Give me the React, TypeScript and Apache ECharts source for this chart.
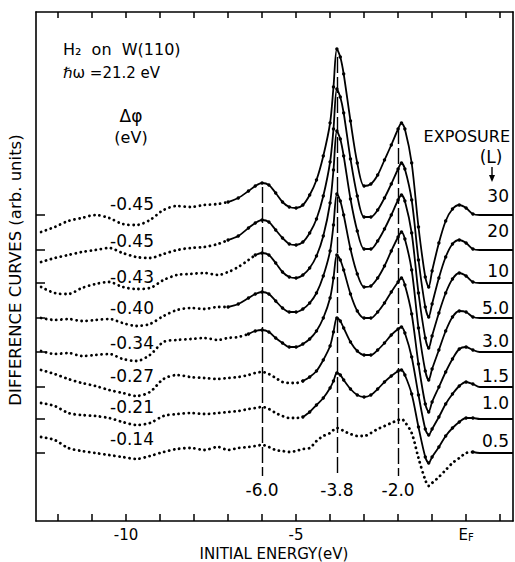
import React, { useEffect, useRef } from "react";
import * as echarts from "echarts";

// Energy grid (eV, relative to E_F)
const energy = [
  -12.5, -12.1, -11.7, -11.3, -10.9, -10.5, -10.1, -9.7, -9.3, -8.9, -8.5, -8.1, -7.7, -7.3,
  -7.0, -6.7, -6.4, -6.2, -6.0, -5.8, -5.6, -5.4, -5.2, -5.0,
  -4.8, -4.6, -4.4, -4.2, -4.0, -3.9, -3.8, -3.7, -3.6, -3.4, -3.2, -3.0,
  -2.8, -2.6, -2.4, -2.2, -2.0, -1.9, -1.8, -1.6, -1.4, -1.2, -1.1, -1.0,
  -0.8, -0.6, -0.4, -0.2, 0.0, 0.2, 0.4, 0.8, 1.38,
];

// Exposure (L) and work-function change labels, top curve first
const exposures = ["30", "20", "10", "5.0", "3.0", "1.5", "1.0", "0.5"];
const dphi = ["-0.45", "-0.45", "-0.43", "-0.40", "-0.34", "-0.27", "-0.21", "-0.14"];

// Zero level of each difference curve (arb. units)
const baselines = [306, 271, 238, 203, 169, 134, 102, 68];

// Energy at which the drawn (solid) curve begins for each exposure
const solidFrom = [-7.0, -7.0, -6.2, -7.0, -6.4, -4.8, -4.8, 0.2];

// Difference-curve values above each baseline
const c30 = [
  -17, -12, -6, -3, 0, -3, -9, -10, -5, 5, 9, 8, 10, 11,
  13, 17, 24, 29, 32, 30, 22, 13, 8, 7,
  10, 20, 35, 59, 92, 128, 166, 158, 141, 94, 52, 29,
  31, 40, 55, 70, 86, 92, 86, 52, -12, -62, -72, -56,
  -28, -6, 6, 10, 7, 1, 0, 0, 0,
];
const c20 = [
  -12, -8, -5, -2, 0, 2, -3, -7, -8, -4, 0, 2, 3, 6,
  10, 14, 22, 27, 30, 28, 20, 12, 6, 5,
  8, 17, 31, 54, 88, 121, 161, 153, 137, 91, 54, 33,
  33, 40, 52, 66, 81, 87, 81, 50, -10, -57, -67, -54,
  -28, -7, 6, 10, 7, 1, 0, 0, 0,
];
const c10 = [
  -4, -10, -11, -5, -1, 1, -4, -6, -5, 3, 8, 9, 10, 8,
  11, 16, 23, 28, 30, 28, 20, 11, 6, 5,
  8, 15, 27, 47, 80, 113, 152, 144, 127, 84, 52, 34,
  34, 42, 54, 68, 83, 88, 82, 50, -10, -55, -65, -53,
  -30, -10, 4, 10, 7, 1, 0, 0, 0,
];
const c5 = [
  0, -2, -1, -3, -2, -1, -5, -8, -6, 2, 8, 10, 9, 11,
  11, 14, 20, 24, 26, 24, 17, 10, 6, 6,
  9, 15, 25, 42, 67, 93, 124, 117, 103, 69, 44, 31,
  32, 40, 52, 67, 81, 86, 79, 48, -10, -53, -62, -51,
  -32, -13, 1, 7, 6, 1, 0, 0, 0,
];
const c3 = [
  1, -2, -1, -4, -3, -2, -7, -9, -3, 10, 12, 13, 14, 12,
  14, 15, 18, 21, 22, 20, 14, 9, 5, 5,
  8, 13, 21, 34, 54, 74, 97, 92, 82, 58, 41, 34,
  34, 40, 49, 60, 70, 74, 67, 38, -12, -52, -60, -50,
  -35, -20, -7, 3, 5, 2, 0, 0, 0,
];
const c15 = [
  17, 13, 8, 4, 1, -3, -6, -9, -5, 8, 12, 10, 9, 8,
  9, 10, 12, 14, 15, 13, 9, 5, 4, 4,
  6, 10, 16, 27, 41, 55, 69, 66, 59, 45, 36, 32,
  32, 37, 44, 52, 58, 60, 54, 30, -8, -42, -48, -42,
  -30, -17, -7, 1, 5, 3, 0, 0, 0,
];
const c1 = [
  16, 13, 6, 4, 3, 1, -3, -6, -4, 3, 5, 6, 5, 6,
  7, 8, 10, 11, 12, 10, 6, 3, 1, 1,
  2, 7, 14, 21, 31, 38, 46, 44, 39, 30, 24, 22,
  24, 30, 37, 43, 48, 49, 44, 25, -8, -38, -44, -38,
  -28, -17, -9, -3, 1, 1, 0, 0, 0,
];
const c05 = [
  16, 13, 5, 2, 0, -2, -4, -6, -3, 1, 4, 5, 3, 6,
  3, 5, 6, 7, 8, 6, 3, 2, 1, 2,
  4, 5, 12, 17, 20, 23, 25, 24, 22, 19, 17, 17,
  20, 24, 27, 30, 33, 34, 31, 20, -5, -27, -33, -30,
  -24, -17, -10, -5, 0, 1, 0, 0, 0,
];

// Marked peak energies
const peakEnergies = [-6.0, -3.8, -2.0];
const peakLabels = ["-6.0", "-3.8", "-2.0"];

// Axis ticks
const xTicks = [-12, -11, -10, -9, -8, -7, -6, -5, -4, -3, -2, -1, 0, 1];
const xLabelValues = [-10, -5, 0];

const FONT = "DejaVu Sans";

export default function App() {
  const ref = useRef<HTMLDivElement>(null);

  useEffect(() => {
    if (!ref.current) return;
    const chart = echarts.init(ref.current, null, { renderer: "svg" });
    const curves = [c30, c20, c10, c5, c3, c15, c1, c05];
    const peakTops = [334, 464, 393];
    const peakBottom = 45;

    const series: any[] = [];
    curves.forEach((vals, i) => {
      const pts = energy.map((e, k) => [e, baselines[i] + vals[k]]);
      const split = energy.indexOf(solidFrom[i]);
      series.push({
        type: "line",
        data: pts.slice(0, split + 1),
        smooth: 0.3,
        showSymbol: false,
        silent: true,
        lineStyle: { color: "#000", width: 2.8, type: [0.1, 5], cap: "round" },
      });
      const s: any = {
        type: "line",
        data: pts.slice(split).map((p) => ({ value: p, symbol: p[0] > 0.3 ? "none" : "circle" })),
        smooth: 0.3,
        symbol: "circle",
        symbolSize: 3.4,
        showSymbol: true,
        showAllSymbol: true,
        silent: true,
        itemStyle: { color: "#000" },
        lineStyle: { color: "#000", width: 1.8 },
      };
      if (i === 0) {
        s.markLine = {
          silent: true,
          symbol: ["none", "none"],
          animation: false,
          lineStyle: { color: "#000", width: 1.4, type: [16, 4] },
          label: {
            show: true,
            position: "end",
            formatter: "{b}",
            color: "#000",
            fontSize: 17,
            fontFamily: FONT,
            distance: 5,
          },
          data: peakEnergies.map((e, j) => [
            { name: peakLabels[j], coord: [e, peakTops[j]] },
            { coord: [e, peakBottom] },
          ]),
        };
      }
      series.push(s);
    });

    const axisLineStyle = { color: "#000", width: 1.6 };
    const texts: any[] = [];
    const addText = (text: string, x: number, y: number, size: number, align = "left", extra: any = {}) =>
      texts.push({
        type: "text",
        x,
        y,
        silent: true,
        ...extra,
        style: {
          text,
          fill: "#000",
          fontSize: size,
          fontFamily: FONT,
          textAlign: align,
          textVerticalAlign: "middle",
        },
      });

    addText("H\u2082  on  W(110)", 63, 49, 16);
    addText("\u210F\u03C9 =21.2 eV", 63, 73, 15);
    addText("\u0394\u03C6", 131, 116, 17, "center");
    addText("(eV)", 131, 137, 16, "center");
    const dphiY = [204, 241, 277, 308, 343, 376, 407, 439];
    dphi.forEach((t, i) => addText(t, 110, dphiY[i], 17));
    addText("EXPOSURE", 510, 136, 16, "right");
    addText("(L)", 491, 157, 17, "center");
    const expY = [196, 231, 271, 308, 341, 376, 403, 441];
    exposures.forEach((t, i) => addText(t, 509, expY[i], 17, "right"));
    addText("INITIAL ENERGY(eV)", 274, 554, 15, "center");
    addText("DIFFERENCE CURVES (arb. units)", 15, 270, 16.5, "center", { rotation: Math.PI / 2 });

    const option: any = {
      animation: false,
      backgroundColor: "#fff",
      grid: { left: 36, right: 2, top: 12, bottom: 41, containLabel: false },
      xAxis: [
        {
          type: "value",
          position: "bottom",
          min: -12.65,
          max: 1.38,
          axisLine: { show: true, onZero: false, lineStyle: axisLineStyle },
          axisTick: { show: true, inside: true, length: 7, customValues: xTicks, lineStyle: { color: "#000", width: 1.5 } },
          axisLabel: {
            show: true,
            customValues: xLabelValues,
            margin: 6,
            color: "#000",
            fontSize: 15,
            fontFamily: FONT,
            formatter: (v: number) => (v === 0 ? "{e|E}{f|F}" : String(v)),
            rich: {
              e: { fontSize: 15, fontFamily: FONT, color: "#000", lineHeight: 15, verticalAlign: "top" },
              f: { fontSize: 10, fontFamily: FONT, color: "#000", lineHeight: 10, verticalAlign: "bottom", padding: [7, 0, 0, 0] },
            },
          },
          splitLine: { show: false },
        },
        {
          type: "value",
          position: "top",
          min: -12.65,
          max: 1.38,
          axisLine: { show: true, onZero: false, lineStyle: axisLineStyle },
          axisTick: { show: true, inside: true, length: 6, customValues: xTicks, lineStyle: { color: "#000", width: 1.5 } },
          axisLabel: { show: false },
          splitLine: { show: false },
        },
      ],
      yAxis: [
        {
          type: "value",
          position: "left",
          min: 0,
          max: 509,
          axisLine: { show: true, onZero: false, lineStyle: axisLineStyle },
          axisTick: { show: true, inside: true, length: 9, customValues: baselines, lineStyle: { color: "#000", width: 1.5 } },
          axisLabel: { show: false },
          splitLine: { show: false },
        },
        {
          type: "value",
          position: "right",
          min: 0,
          max: 509,
          axisLine: { show: true, onZero: false, lineStyle: axisLineStyle },
          axisTick: { show: false },
          axisLabel: { show: false },
          splitLine: { show: false },
        },
      ],
      series,
      graphic: [
        ...texts,
        {
          type: "line",
          silent: true,
          shape: { x1: 492, y1: 167, x2: 492, y2: 177 },
          style: { stroke: "#000", lineWidth: 1.4 },
        },
        {
          type: "polygon",
          silent: true,
          shape: { points: [[489, 175], [495, 175], [492, 182]] },
          style: { fill: "#000" },
        },
      ],
    };
    chart.setOption(option);
    return () => chart.dispose();
  }, []);

  return (
    <div
      ref={ref}
      style={{ position: "fixed", left: 0, top: 0, width: 515, height: 562, background: "#fff" }}
    />
  );
}
